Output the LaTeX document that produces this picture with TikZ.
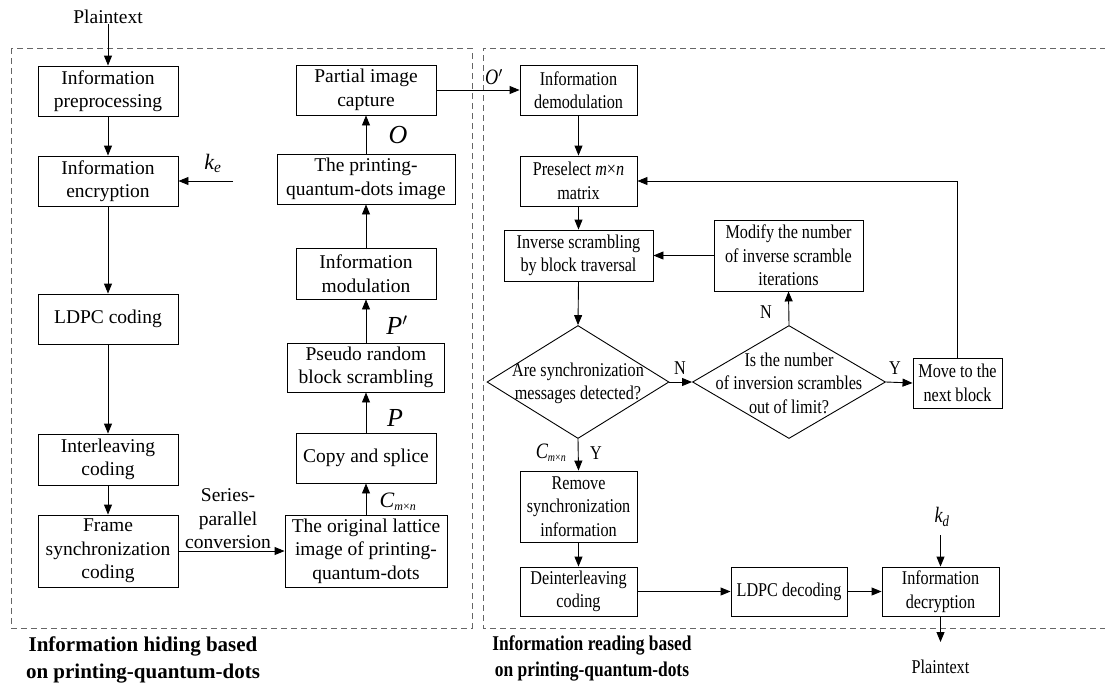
\documentclass[tikz,border=0pt]{standalone}
\usepackage{fontspec}
\setmainfont{Liberation Serif}
\newfontfamily\cond[FakeStretch=0.83]{Liberation Serif}
\usetikzlibrary{arrows.meta,shapes.geometric}
\begin{document}
\begin{tikzpicture}[x=1pt,y=-1pt,
  every node/.style={font=\fontsize{19.5}{23.5}\selectfont},
  box/.style={draw, line width=0.9pt, align=center, inner sep=0pt},
  dia/.style={draw, diamond, line width=0.9pt, inner sep=0pt},
  arr/.style={-{Triangle[length=10pt,width=8pt]}, line width=0.9pt},
  dashbox/.style={draw=black!60, dash pattern=on 6pt off 4pt, line width=0.9pt},
  lbl/.style={inner sep=0pt, align=center},
  bigit/.style={inner sep=0pt, font=\fontsize{26}{30}\selectfont\itshape},
  midit/.style={inner sep=0pt, font=\fontsize{22}{26}\selectfont\itshape},
  midc/.style={inner sep=0pt, font=\cond\fontsize{22}{26}\selectfont\itshape},
  rnode/.style={font=\cond\fontsize{19.5}{23.5}\selectfont},
  capt/.style={inner sep=0pt, align=center, font=\fontsize{21}{26.5}\selectfont\bfseries},
  captc/.style={inner sep=0pt, align=center, font=\cond\fontsize{21}{26.5}\selectfont\bfseries}]
\useasboundingbox (0,0) rectangle (1105,686);

% dashed frames
\draw[dashbox] (11,48) rectangle (472,628);
\draw[dashbox] (1106,48) -- (483,48) -- (483,628) -- (1106,628);

% left column
\node[lbl] (pt1) at (108,17) {Plaintext};
\node[box, minimum width=140pt, minimum height=50pt] (pre) at (108,91) {Information\\preprocessing};
\node[box, minimum width=140pt, minimum height=50pt] (enc) at (108,181) {Information\\encryption};
\node[box, minimum width=140pt, minimum height=50pt] (ldpc) at (108,319) {LDPC coding};
\node[box, minimum width=140pt, minimum height=51pt] (inter) at (108,459.5) {Interleaving\\coding};
\node[box, minimum width=140pt, minimum height=72pt] (fsc) at (108,551) {Frame\\synchronization\\coding};
\coordinate (kein) at (233,181);
\node[midit] (ke) at (213,163) {k\textsubscript{e}};

% second column
\node[box, minimum width=162pt, minimum height=72pt] (orig) at (366,551) {The original lattice\\image of printing-\\quantum-dots};
\node[box, minimum width=140pt, minimum height=50pt] (copy) at (366,458) {Copy and splice};
\node[box, minimum width=157pt, minimum height=49pt] (pseudo) at (366,367.5) {Pseudo random\\block scrambling};
\node[box, minimum width=140pt, minimum height=51pt] (mod) at (366,273.5) {Information\\modulation};
\node[box, minimum width=178pt, minimum height=50pt] (pqd) at (366,179) {The printing-\\quantum-dots image};
\node[box, minimum width=140pt, minimum height=50pt] (pic) at (366,90) {Partial image\\capture};
\node[lbl] (sp) at (228,519) {Series-\\parallel\\conversion};
\node[midit] (cmn1) at (398,502) {C\textsubscript{\fontsize{12}{12}\selectfont m\textup{×}n}};
\node[bigit] (plab) at (395,418) {P};
\node[bigit] (pplab) at (397,325) {P$^{\prime}$};
\node[bigit] (olab) at (398,135) {O};

% right frame
\begin{scope}[every node/.append style={rnode}]
\node[box, minimum width=117pt, minimum height=50pt] (demod) at (578.5,90) {Information\\demodulation};
\node[box, minimum width=117pt, minimum height=50pt] (presel) at (578.5,181) {Preselect \textit{m}×\textit{n}\\matrix};
\node[box, minimum width=149pt, minimum height=51pt] (inv) at (578.5,255.5) {Inverse scrambling\\by block traversal};
\node[box, minimum width=149pt, minimum height=71pt] (modify) at (788.5,255.5) {Modify the number\\of inverse scramble\\iterations};
\node[dia, minimum width=182pt, minimum height=113pt] (d1) at (578,382) {};
\node[lbl] (d1t) at (578,383.5) {Are synchronization\\messages detected?};
\node[dia, minimum width=193pt, minimum height=113pt] (d2) at (789,382) {};
\node[lbl] (d2t) at (789,383) {Is the number\\of inversion scrambles\\out of limit?};
\node[box, minimum width=89pt, minimum height=50pt] (move) at (957.5,383) {Move to the\\next block};
\node[box, minimum width=117pt, minimum height=71pt] (remove) at (578.5,506.5) {Remove\\synchronization\\information};
\node[box, minimum width=117pt, minimum height=49pt] (deint) at (578.5,591.5) {Deinterleaving\\coding};
\node[box, minimum width=116pt, minimum height=49pt] (ldpcd) at (789,591.5) {LDPC decoding};
\node[box, minimum width=117pt, minimum height=49pt] (decr) at (940.5,591.5) {Information\\decryption};
\coordinate (kdin) at (940.5,535);
\coordinate (ptout) at (940.5,642);
\node[lbl] (pt2) at (940.5,667) {Plaintext};
\node[lbl] (n1) at (680,368) {N};
\node[lbl] (n2) at (766,312) {N};
\node[lbl] (y1) at (895,368) {Y};
\node[lbl] (y2) at (596,453) {Y};
\end{scope}
\node[midc] (kd) at (942,517) {k\textsubscript{d}};
\node[midc] (cmn2) at (551,453) {C\textsubscript{\fontsize{12}{12}\selectfont m\textup{×}n}};
\node[midc] (oplab) at (494,77) {O$^{\prime}$};

% captions
\node[capt] (cap1) at (143,660) {Information hiding based\\on printing-quantum-dots};
\node[captc] (cap2) at (592,658.5) {Information reading based\\on printing-quantum-dots};

% connectors, left frame
\draw[arr] (pt1.south) -- (pre.north);
\draw[arr] (pre) -- (enc);
\draw[arr] (enc) -- (ldpc);
\draw[arr] (ldpc) -- (inter);
\draw[arr] (inter) -- (fsc);
\draw[arr] (kein) -- (enc.east);
\draw[arr] (fsc.east) -- (orig.west);
\draw[arr] (orig) -- (copy);
\draw[arr] (copy) -- (pseudo);
\draw[arr] (pseudo) -- (mod);
\draw[arr] (mod) -- (pqd);
\draw[arr] (pqd) -- (pic);
\draw[arr] (pic.east) -- (demod.west);

% connectors, right frame
\draw[arr] (demod) -- (presel);
\draw[arr] (presel) -- (inv);
\draw[arr] (inv.south) -- (d1.north);
\draw[arr] (modify.west) -- (inv.east);
\draw[arr] (d1.east) -- (d2.west);
\draw[arr] (d2.north) -- (modify.south);
\draw[arr] (d2.east) -- (move.west);
\draw[arr] (move.north) |- (presel.east);
\draw[arr] (d1.south) -- (remove.north);
\draw[arr] (remove) -- (deint);
\draw[arr] (deint) -- (ldpcd);
\draw[arr] (ldpcd) -- (decr);
\draw[arr] (kdin) -- (decr.north);
\draw[arr] (decr.south) -- (ptout);
\end{tikzpicture}
\end{document}
